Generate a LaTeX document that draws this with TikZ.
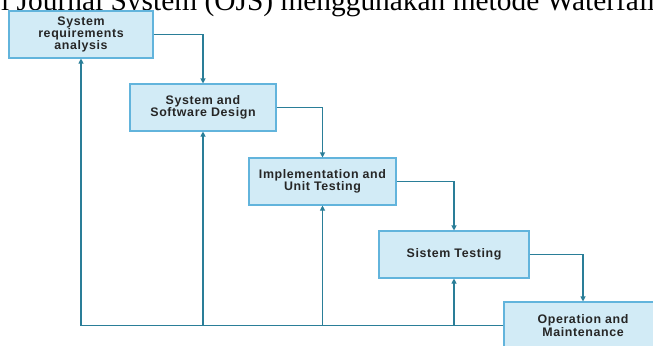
\documentclass[tikz,border=0pt]{standalone}
\usepackage{fontspec}
\setmainfont{Liberation Serif}
\newfontfamily\boxfont[LetterSpace=5]{Liberation Sans}
\usetikzlibrary{arrows.meta}
\definecolor{boxfill}{HTML}{D2EBF6}
\definecolor{boxline}{HTML}{62B4DC}
\definecolor{conn}{HTML}{2A7E98}
\tikzset{
  phase/.style={draw=boxline, fill=boxfill, line width=1.1bp, minimum height=47bp,
    align=center, inner sep=0pt, font=\boxfont\bfseries\fontsize{12.4bp}{12.3bp}\selectfont, text=black!85},
  flow/.style={draw=conn, line width=1.1bp, -{Triangle[length=5bp,width=5bp]}}
}
\begin{document}
\begin{tikzpicture}[x=1bp,y=-1bp]
\useasboundingbox (0,0) rectangle (653,345);
\clip (0,0) rectangle (653,345);
\fill[white] (0,0) rectangle (653,345);
\node[anchor=base west, inner sep=0pt, font=\fontsize{29.4bp}{31bp}\selectfont] (cap) at (1,10.5) {l Journal System (OJS) menggunakan metode Waterfall};
\node[phase, minimum width=144bp] (b1) at (81,34.5) {System\\requirements\\analysis};
\node[phase, minimum width=146bp] (b2) at (203,107.5) {System and\\Software Design};
\node[phase, minimum width=147bp] (b3) at (322.5,181.5) {Implementation and\\Unit Testing};
\node[phase, minimum width=150bp] (b4) at (454,254.5) {Sistem Testing};
\node[phase, minimum width=158bp] (b5) at (583,325.5) {Operation and\\Maintenance};
\draw[flow] (b1.east) -| (b2.north);
\draw[flow] (b2.east) -| (b3.north);
\draw[flow] (b3.east) -| (b4.north);
\draw[flow] (b4.east) -| (b5.north);
\draw[flow] (b5.west) -| (b1.south);
\coordinate (j2) at (b2 |- b5.west);
\coordinate (j3) at (b3 |- b5.west);
\coordinate (j4) at (b4 |- b5.west);
\draw[flow] (j2) -- (b2.south);
\draw[flow] (j3) -- (b3.south);
\draw[flow] (j4) -- (b4.south);
\end{tikzpicture}
\end{document}
